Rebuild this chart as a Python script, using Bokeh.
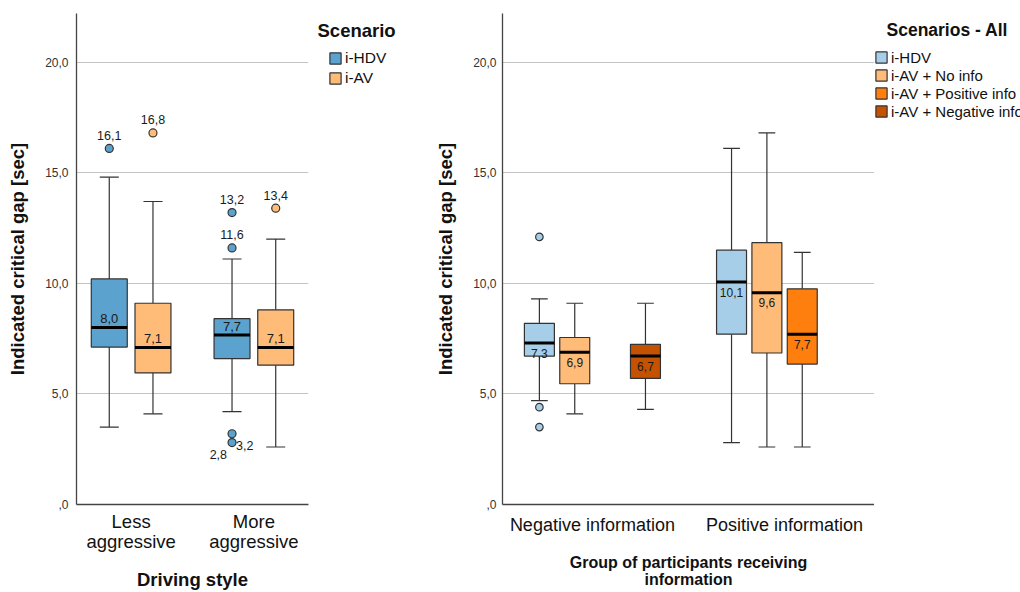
from bokeh.plotting import figure
from bokeh.models import (ColumnDataSource, FactorRange, Range1d, FixedTicker,
                          Legend, LegendItem, Label)
from bokeh.transform import dodge
from bokeh.layouts import row
from bokeh.embed import file_html
from bokeh.resources import INLINE
from bokeh.core.properties import value

FONT = "Liberation Sans"

# ---------------- Left chart data ----------------
left_groups = ["Less\naggressive", "More\naggressive"]
left_scenarios = ["i-HDV", "i-AV"]

left_hdv_lower = [3.5, 4.2]
left_hdv_q1 = [7.12, 6.6]
left_hdv_median = [8.0, 7.66]
left_hdv_q3 = [10.2, 8.4]
left_hdv_upper = [14.8, 11.1]

left_av_lower = [4.1, 2.6]
left_av_q1 = [5.95, 6.3]
left_av_median = [7.1, 7.1]
left_av_q3 = [9.1, 8.8]
left_av_upper = [13.7, 12.0]

left_hdv_out_group = ["Less\naggressive", "More\naggressive", "More\naggressive",
                      "More\naggressive", "More\naggressive"]
left_hdv_out_value = [16.1, 13.2, 11.6, 3.2, 2.8]
left_av_out_group = ["Less\naggressive", "More\naggressive"]
left_av_out_value = [16.8, 13.4]

# ---------------- Right chart data ----------------
right_groups = ["Negative information", "Positive information"]
right_scenarios = ["i-HDV", "i-AV + No info", "i-AV + Positive info", "i-AV + Negative info"]

r_hdv_groups = ["Negative information", "Positive information"]
r_hdv_lower = [4.7, 2.8]
r_hdv_q1 = [6.71, 7.7]
r_hdv_median = [7.3, 10.06]
r_hdv_q3 = [8.19, 11.5]
r_hdv_upper = [9.3, 16.1]

r_noinfo_groups = ["Negative information", "Positive information"]
r_noinfo_lower = [4.1, 2.6]
r_noinfo_q1 = [5.46, 6.85]
r_noinfo_median = [6.88, 9.57]
r_noinfo_q3 = [7.55, 11.84]
r_noinfo_upper = [9.1, 16.8]

r_pos_groups = ["Positive information"]
r_pos_lower = [2.6]
r_pos_q1 = [6.35]
r_pos_median = [7.7]
r_pos_q3 = [9.75]
r_pos_upper = [11.4]

r_neg_groups = ["Negative information"]
r_neg_lower = [4.3]
r_neg_q1 = [5.7]
r_neg_median = [6.71]
r_neg_q3 = [7.24]
r_neg_upper = [9.1]

r_hdv_out_group = ["Negative information", "Negative information", "Negative information"]
r_hdv_out_value = [12.1, 4.4, 3.5]

y_ticks = [0, 5, 10, 15, 20]

# ---------------- styling ----------------
LEFT_COLORS = ["#5BA2CE", "#FFBB78"]
RIGHT_COLORS = ["#A6CEE8", "#FFBB78", "#FF7F0E", "#C55200"]
EDGE = "#333333"
H = 592
TOP = 13
BOTTOM = 86
FRAME_BOTTOM = H - BOTTOM


def fmt(v):
    s = f"{v:.1f}".replace(".", ",")
    return s[1:] if s.startswith("0,") else s


def base_fig(groups, width, pad, min_left, min_right):
    p = figure(width=width, height=H, x_range=FactorRange(*groups, range_padding=pad),
               y_range=Range1d(0, 22.2), output_backend="svg", toolbar_location=None,
               min_border_left=min_left, min_border_right=min_right,
               min_border_top=TOP, min_border_bottom=BOTTOM)
    p.outline_line_color = None
    p.xgrid.visible = False
    p.ygrid.grid_line_color = "#C4C4C4"
    p.ygrid.grid_line_width = 1.2
    p.yaxis.ticker = FixedTicker(ticks=y_ticks)
    p.yaxis.major_label_overrides = {t: fmt(float(t)) for t in y_ticks}
    for ax in (p.xaxis[0], p.yaxis[0]):
        ax.axis_line_color = "#444444"
        ax.axis_line_width = 1.3
        ax.major_tick_out = 0
        ax.major_tick_in = 0
        ax.minor_tick_out = 0
        ax.minor_tick_in = 0
        ax.axis_label_text_font = FONT
        ax.axis_label_text_font_style = "bold"
        ax.axis_label_text_color = "#111111"
        ax.major_label_text_font = FONT
    p.yaxis.major_label_text_font_size = "12px"
    p.yaxis.major_label_text_color = "#333333"
    p.xaxis.major_label_text_color = "#111111"
    return p


def draw_boxes(p, groups, lower, q1, med, q3, upper, offset, width, cap, color,
               label_dy, label_size):
    src = ColumnDataSource(dict(g=groups, lower=lower, q1=q1, med=med, q3=q3,
                                upper=upper, txt=[fmt(v) for v in med]))
    xr = p.x_range
    xc = dodge("g", offset, range=xr)
    xl = dodge("g", offset - width / 2, range=xr)
    xrt = dodge("g", offset + width / 2, range=xr)
    cl = dodge("g", offset - cap / 2, range=xr)
    cr = dodge("g", offset + cap / 2, range=xr)
    p.segment(x0=xc, y0="upper", x1=xc, y1="q3", source=src, line_color=EDGE, line_width=1.2)
    p.segment(x0=xc, y0="q1", x1=xc, y1="lower", source=src, line_color=EDGE, line_width=1.2)
    p.segment(x0=cl, y0="upper", x1=cr, y1="upper", source=src, line_color=EDGE, line_width=1.2)
    p.segment(x0=cl, y0="lower", x1=cr, y1="lower", source=src, line_color=EDGE, line_width=1.2)
    p.vbar(x=xc, width=width, bottom="q1", top="q3", source=src,
           fill_color=color, line_color=EDGE, line_width=1.2)
    p.segment(x0=xl, y0="med", x1=xrt, y1="med", source=src, line_color="#000000", line_width=3)
    p.text(x=xc, y="med", text="txt", source=src, y_offset=label_dy,
           text_align="center", text_baseline="middle", text_font=value(FONT),
           text_font_size=label_size, text_color="#1a1a1a")
    return src


def draw_outliers(p, groups, vals, offset, color, size):
    src = ColumnDataSource(dict(g=groups, v=vals, txt=[fmt(v) for v in vals]))
    p.scatter(x=dodge("g", offset, range=p.x_range), y="v", source=src, size=size,
              fill_color=color, line_color=EDGE, line_width=1.2)
    return src


def legend_fig(width, groups, names, colors, sources, title, title_x, title_cy, title_size,
               leg_x, leg_bottom, label_size, label_height):
    f = figure(width=width, height=H, x_range=FactorRange(*groups), y_range=Range1d(0, 22.2),
               output_backend="svg", toolbar_location=None, min_border_left=0,
               min_border_right=0, min_border_top=TOP, min_border_bottom=BOTTOM,
               x_axis_location=None, y_axis_location=None)
    f.outline_line_color = None
    f.grid.visible = False
    items = []
    for n, c, s in zip(names, colors, sources):
        # hidden copy of the series boxes: only used to draw the legend swatch
        r = f.vbar(x="g", width=0.1, bottom="q1", top="q3", source=s,
                   fill_color=c, line_color=EDGE, line_width=1.2, visible=False)
        items.append(LegendItem(label=n, renderers=[r]))
    leg = Legend(items=items, location=(leg_x, FRAME_BOTTOM - leg_bottom),
                 orientation="vertical", padding=0, margin=0, click_policy="none",
                 inactive_fill_alpha=0,
                 spacing=0, glyph_width=14, glyph_height=14, label_height=label_height,
                 label_standoff=3, label_text_font=FONT, label_text_font_size=label_size,
                 label_text_color="#111111", border_line_color=None,
                 background_fill_alpha=0)
    f.add_layout(leg)
    f.add_layout(Label(x=title_x, y=FRAME_BOTTOM - title_cy, x_units="screen", y_units="screen",
                       text=title, text_font=FONT, text_font_style="bold",
                       text_font_size=title_size, text_baseline="middle",
                       text_color="#111111"))
    return f


# ================= LEFT FIGURE =================
left = base_fig(left_groups, 312, -0.055, 76, 4)
left.xaxis.major_label_text_font_size = "18.5px"
left.xaxis.major_label_text_line_height = 0.96
left.xaxis.major_label_standoff = 6
left.xaxis.axis_label = "Driving style"
left.xaxis.axis_label_text_font_size = "18.5px"
left.xaxis.axis_label_text_line_height = 0.9
left.xaxis.axis_label_standoff = 14
left.yaxis.axis_label = "Indicated critical gap [sec]"
left.yaxis.axis_label_text_font_size = "18.5px"
left.yaxis.major_label_standoff = 8
left.yaxis.axis_label_standoff = 14

L_OFF = [-0.178, 0.178]
L_W = 0.293
L_CAP = 0.155
src_l1 = draw_boxes(left, left_groups, left_hdv_lower, left_hdv_q1, left_hdv_median,
                    left_hdv_q3, left_hdv_upper, L_OFF[0], L_W, L_CAP, LEFT_COLORS[0], -9, "13px")
src_l2 = draw_boxes(left, left_groups, left_av_lower, left_av_q1, left_av_median,
                    left_av_q3, left_av_upper, L_OFF[1], L_W, L_CAP, LEFT_COLORS[1], -9, "13px")

s_hdv = draw_outliers(left, left_hdv_out_group, left_hdv_out_value, L_OFF[0], LEFT_COLORS[0], 8)
s_av = draw_outliers(left, left_av_out_group, left_av_out_value, L_OFF[1], LEFT_COLORS[1], 8)
# outlier label placement (screen offsets, styles only)
s_hdv.data["dx"] = [0, 0, 0, 4, -5]
s_hdv.data["dy"] = [-13, -13, -13, 12, 12]
s_hdv.data["al"] = ["center", "center", "center", "left", "right"]
s_av.data["dx"] = [0, 0]
s_av.data["dy"] = [-13, -13]
s_av.data["al"] = ["center", "center"]
for src, off in ((s_hdv, L_OFF[0]), (s_av, L_OFF[1])):
    left.text(x=dodge("g", off, range=left.x_range), y="v", text="txt", source=src,
              x_offset="dx", y_offset="dy", text_align="al", text_baseline="middle",
              text_font=value(FONT), text_font_size="12.5px", text_color="#1a1a1a")

leg_left = legend_fig(118, left_groups, left_scenarios, LEFT_COLORS, [src_l1, src_l2],
                      "Scenario", 5, 32, "18.5px", 16, 90, "15.5px", 20)

# ================= RIGHT FIGURE =================
right = base_fig(right_groups, 444, -0.032, 72, 0)
right.xaxis.major_label_text_font_size = "18px"
right.xaxis.major_label_standoff = 10
right.xaxis.axis_label = "Group of participants receiving\ninformation"
right.xaxis.axis_label_text_font_size = "16px"
right.xaxis.axis_label_text_line_height = 1.05
right.xaxis.axis_label_standoff = 16
right.yaxis.axis_label = "Indicated critical gap [sec]"
right.yaxis.axis_label_text_font_size = "18.5px"
right.yaxis.major_label_standoff = 6
right.yaxis.axis_label_standoff = 14

R_OFF = [-0.276, -0.092, 0.092, 0.276]
R_W = 0.156
R_CAP = 0.087
src_r1 = draw_boxes(right, r_hdv_groups, r_hdv_lower, r_hdv_q1, r_hdv_median, r_hdv_q3,
                    r_hdv_upper, R_OFF[0], R_W, R_CAP, RIGHT_COLORS[0], 10, "12px")
src_r2 = draw_boxes(right, r_noinfo_groups, r_noinfo_lower, r_noinfo_q1, r_noinfo_median,
                    r_noinfo_q3, r_noinfo_upper, R_OFF[1], R_W, R_CAP, RIGHT_COLORS[1], 10, "12px")
src_r3 = draw_boxes(right, r_pos_groups, r_pos_lower, r_pos_q1, r_pos_median, r_pos_q3,
                    r_pos_upper, R_OFF[2], R_W, R_CAP, RIGHT_COLORS[2], 10, "12px")
src_r4 = draw_boxes(right, r_neg_groups, r_neg_lower, r_neg_q1, r_neg_median, r_neg_q3,
                    r_neg_upper, R_OFF[3], R_W, R_CAP, RIGHT_COLORS[3], 10, "12px")
draw_outliers(right, r_hdv_out_group, r_hdv_out_value, R_OFF[0], RIGHT_COLORS[0], 7.5)

leg_right = legend_fig(146, right_groups, right_scenarios, RIGHT_COLORS,
                       [src_r1, src_r2, src_r3, src_r4], "Scenarios - All", 12, 31,
                       "17.5px", 0, 122, "15px", 18)

layout = row(left, leg_left, right, leg_right)
open("out.html", "w").write(file_html(layout, INLINE))
